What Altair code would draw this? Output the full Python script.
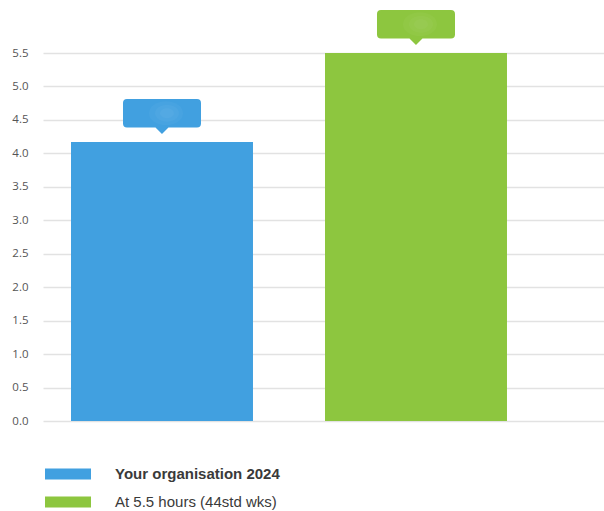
import altair as alt
import pandas as pd

categories = ["Your organisation 2024", "At 5.5 hours (44std wks)"]
values = [4.17, 5.5]
colors = ["#41a0e0", "#8dc63f"]
y_ticks = [0.0, 0.5, 1.0, 1.5, 2.0, 2.5, 3.0, 3.5, 4.0, 4.5, 5.0, 5.5]

df = pd.DataFrame({"series": categories, "value": values})

color_scale = alt.Scale(domain=categories, range=colors)

x_enc = alt.X(
    "series:N",
    sort=categories,
    axis=None,
    scale=alt.Scale(paddingInner=0.2835, paddingOuter=0.2461, align=0.224),
)
y_enc = alt.Y(
    "value:Q",
    scale=alt.Scale(domain=[0, 5.5], nice=False, zero=True),
    axis=alt.Axis(
        values=y_ticks,
        format=".1f",
        title=None,
        domain=False,
        ticks=False,
        labelPadding=15,
        gridColor="#e2e2e2",
        gridWidth=1.5,
        labelColor="#555555",
        labelFontSize=11.5,
        labelFont="Open Sans",
    ),
)

callout_path = (
    "M-0.70,-0.86 L0.70,-0.86 Q0.78,-0.86 0.78,-0.78 L0.78,-0.37 "
    "Q0.78,-0.29 0.70,-0.29 L0.13,-0.29 L0,-0.16 L-0.13,-0.29 L-0.70,-0.29 "
    "Q-0.78,-0.29 -0.78,-0.37 L-0.78,-0.78 Q-0.78,-0.86 -0.70,-0.86 Z"
)
glow_outer = "M-0.26,-0.575 A0.34,0.24 0 1,0 0.42,-0.575 A0.34,0.24 0 1,0 -0.26,-0.575 Z"
glow_mid = "M-0.14,-0.575 A0.24,0.17 0 1,0 0.34,-0.575 A0.24,0.17 0 1,0 -0.14,-0.575 Z"
glow_inner = "M-0.04,-0.575 A0.14,0.10 0 1,0 0.24,-0.575 A0.14,0.10 0 1,0 -0.04,-0.575 Z"

bars = alt.Chart(df).mark_bar(strokeWidth=0).encode(
    x=x_enc,
    y=y_enc,
    color=alt.Color(
        "series:N",
        scale=color_scale,
        sort=categories,
        legend=alt.Legend(
            title=None,
            orient="none",
            legendX=2,
            legendY=415,
            symbolType="M-1,-0.24H1V0.24H-1Z",
            symbolSize=2116,
            symbolStrokeWidth=0,
            symbolOpacity=1,
            clipHeight=12,
            rowPadding=13,
            labelOffset=24,
            labelFontSize=15,
            labelLimit=400,
            labelFont="Liberation Sans",
            labelColor="#3a3a3a",
            labelFontWeight=alt.ExprRef(
                "datum.label == 'Your organisation 2024' ? 'bold' : 'normal'"
            ),
            padding=0,
        ),
    ),
)

callouts = alt.Chart(df).mark_point(
    shape=callout_path, size=10000, filled=True, opacity=1, strokeWidth=0
).encode(
    x=x_enc,
    y=y_enc,
    color=alt.Color("series:N", scale=color_scale, legend=None),
)

glows = [
    alt.Chart(df).mark_point(
        shape=g, size=10000, filled=True, color="white", opacity=0.035, strokeWidth=0
    ).encode(x=x_enc, y=y_enc)
    for g in (glow_outer, glow_mid, glow_inner)
]

chart = (
    alt.layer(bars, callouts, *glows)
    .properties(
        width=561,
        height=368,
        padding={"left": 43, "top": 53, "right": 0, "bottom": 90},
        autosize=alt.AutoSizeParams(type="none"),
        background="white",
    )
    .configure_view(strokeWidth=0)
)

chart.save("out.html", embed_options={"renderer": "svg", "actions": False})
